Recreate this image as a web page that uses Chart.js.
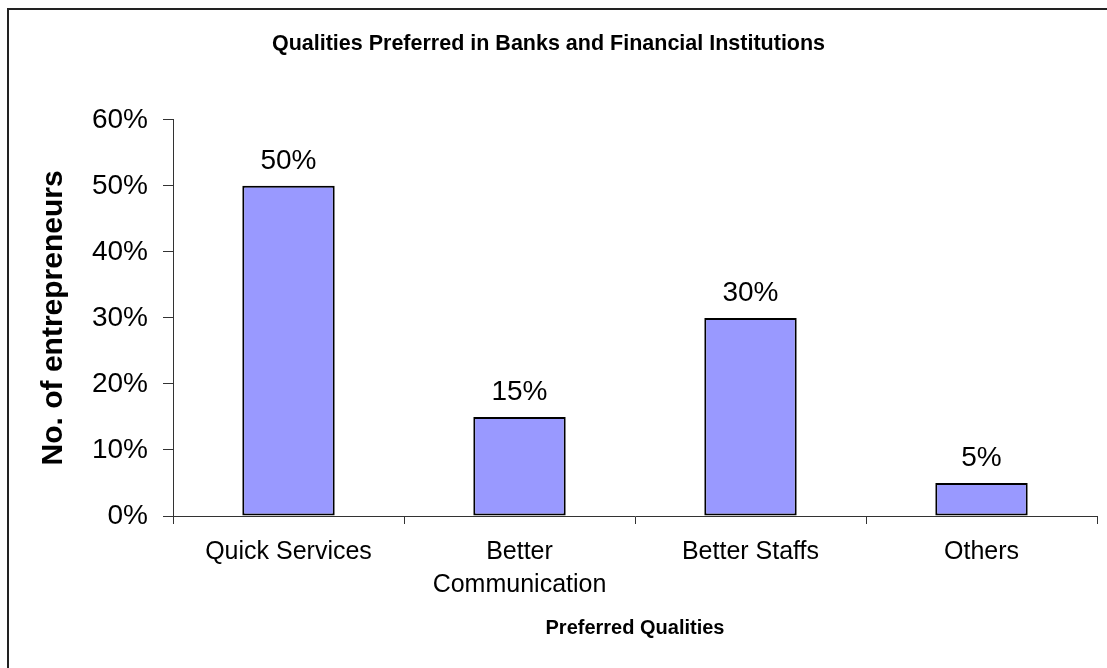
<!DOCTYPE html>
<html>
<head>
<meta charset="utf-8">
<title>Qualities Preferred in Banks and Financial Institutions</title>
<script src="https://cdn.jsdelivr.net/npm/chart.js@4/dist/chart.umd.min.js"></script>
<style>
  html, body { margin: 0; padding: 0; background: #fff; overflow: hidden; }
  #wrap { position: absolute; left: 0; top: 0; width: 1107px; height: 668px; }
  #frame {
    position: absolute; left: 7px; top: 8px; width: 1120px; height: 680px;
    border: 2px solid #222; pointer-events: none;
  }
</style>
</head>
<body>
<div id="wrap"><canvas id="qualityChart"></canvas></div>
<div id="frame"></div>
<script>
// --------------------
// Survey data
// --------------------
const categories = ["Quick Services", ["Better", "Communication"], "Better Staffs", "Others"];
const shares = [50, 15, 30, 5];
const yTicks = [0, 10, 20, 30, 40, 50, 60];

const FONT = "Arial, 'Liberation Sans', sans-serif";

// --------------------
// Percent labels above each bar
// --------------------
const barValueLabels = {
  id: "barValueLabels",
  afterDatasetsDraw(chart) {
    const ctx = chart.ctx;
    const meta = chart.getDatasetMeta(0);
    ctx.save();
    ctx.font = "28px " + FONT;
    ctx.fillStyle = "#000";
    ctx.textAlign = "center";
    ctx.textBaseline = "alphabetic";
    meta.data.forEach((bar, i) => {
      ctx.fillText(shares[i] + "%", bar.x, bar.y - 17);
    });
    ctx.restore();
  }
};

// --------------------
// Chart.js Setup
// --------------------
const chart = new Chart(document.getElementById("qualityChart"), {
  type: "bar",
  data: {
    labels: categories,
    datasets: [{
      data: shares,
      backgroundColor: "#9999FF",
      borderColor: "#000",
      borderWidth: 2,
      borderSkipped: false,
      barPercentage: 0.4,
      categoryPercentage: 1
    }]
  },
  options: {
    responsive: true,
    maintainAspectRatio: false,
    animation: false,
    layout: { padding: { left: 0, right: 10, top: 0, bottom: 0 } },
    plugins: {
      legend: { display: false },
      tooltip: { enabled: false },
      title: {
        display: true,
        text: "Qualities Preferred in Banks and Financial Institutions",
        color: "#000",
        font: { family: FONT, size: 21.5, weight: "bold", lineHeight: 1.2 },
        padding: { top: 31, bottom: 63 }
      }
    },
    scales: {
      x: {
        afterFit(scale) { scale.height = 152; },
        grid: { drawOnChartArea: false, drawTicks: true, tickLength: 8, color: "#333", offset: true },
        border: { color: "#333", width: 1 },
        ticks: {
          color: "#000",
          maxRotation: 0,
          padding: 12,
          font: { family: FONT, size: 25, lineHeight: 1.3 }
        },
        title: {
          display: true,
          text: "Preferred Qualities",
          color: "#000",
          font: { family: FONT, size: 20, weight: "bold", lineHeight: 1.2 },
          padding: { top: 0, bottom: 28 }
        }
      },
      y: {
        min: yTicks[0],
        max: yTicks[yTicks.length - 1],
        afterFit(scale) { scale.width = 173; },
        afterBuildTicks(scale) { scale.ticks = yTicks.map(v => ({ value: v })); },
        grid: { drawOnChartArea: false, drawTicks: true, tickLength: 10, color: "#333" },
        border: { color: "#333", width: 1 },
        ticks: {
          color: "#000",
          padding: 15,
          font: { family: FONT, size: 28 },
          callback: v => v + "%"
        },
        title: {
          display: true,
          text: "No. of entrepreneurs",
          color: "#000",
          font: { family: FONT, size: 30, weight: "bold", lineHeight: 1.2 },
          padding: { top: 36, bottom: 0 }
        }
      }
    }
  },
  plugins: [barValueLabels]
});
</script>
</body>
</html>
